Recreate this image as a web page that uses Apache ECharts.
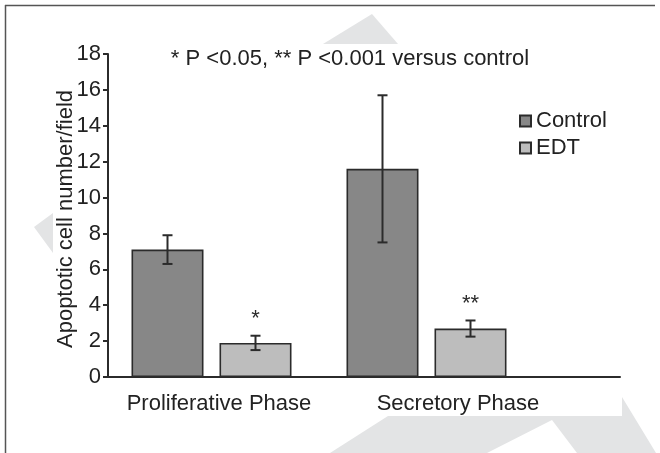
<!DOCTYPE html>
<html>
<head>
<meta charset="utf-8">
<title>Apoptotic cell number per field</title>
<script src="https://cdn.jsdelivr.net/npm/echarts@6/dist/echarts.min.js"></script>
<style>
  html, body { margin: 0; padding: 0; background: #ffffff; }
  #chart { width: 660px; height: 453px; }
</style>
</head>
<body>
<div id="chart"></div>
<script>
// Group labels along the x axis
const categories = ['Proliferative Phase', 'Secretory Phase'];
// Mean apoptotic cells per field and their error bar half-widths
const controlMean = [7.1, 11.6];
const controlErr = [0.8, 4.1];
const edtMean = [1.9, 2.7];
const edtErr = [0.4, 0.45];
// Significance markers drawn above the EDT bars
const edtSig = ['*', '**'];
// Y axis scale
const yMin = 0;
const yMax = 18;
const yStep = 2;

const FONT = '"Liberation Sans", Arial, Helvetica, sans-serif';
const INK = '#2b2b2b';
const BAR_W = 72;
const BAR_GAP = 16;
const CAP_W = 10;
const WATERMARK = '#e3e4e5';

const chart = echarts.init(document.getElementById('chart'), null, { renderer: 'canvas' });

// Whisker series: vertical line with end caps, offset to sit on its bar
function errorSeries(means, errs, side, marks) {
  return {
    type: 'custom',
    xAxisIndex: 1,
    yAxisIndex: 1,
    z: 5,
    silent: true,
    data: means.map((m, i) => [i, m - errs[i], m + errs[i]]),
    renderItem(params, api) {
      const i = api.value(0);
      const lo = api.coord([i, api.value(1)]);
      const hi = api.coord([i, api.value(2)]);
      const x = lo[0] + side * (BAR_W + BAR_GAP) / 2;
      const style = { stroke: INK, lineWidth: 2 };
      const children = [
        { type: 'line', shape: { x1: x, y1: lo[1], x2: x, y2: hi[1] }, style },
        { type: 'line', shape: { x1: x - CAP_W / 2, y1: hi[1], x2: x + CAP_W / 2, y2: hi[1] }, style },
        { type: 'line', shape: { x1: x - CAP_W / 2, y1: lo[1], x2: x + CAP_W / 2, y2: lo[1] }, style }
      ];
      if (marks && marks[i]) {
        children.push({
          type: 'text',
          style: {
            text: marks[i],
            x: x,
            y: hi[1] - 6,
            align: 'center',
            verticalAlign: 'bottom',
            fill: INK,
            font: '22px ' + FONT
          }
        });
      }
      return { type: 'group', children };
    }
  };
}

const option = {
  backgroundColor: '#ffffff',
  animation: false,
  textStyle: { fontFamily: FONT },
  title: {
    text: '* P <0.05, ** P <0.001 versus control',
    left: 345,
    top: 43,
    textAlign: 'center',
    textStyle: { fontFamily: FONT, fontSize: 22, fontWeight: 'normal', color: '#222' }
  },
  legend: {
    orient: 'vertical',
    left: 514,
    top: 105,
    icon: 'rect',
    itemWidth: 11,
    itemHeight: 11,
    itemGap: 5,
    data: ['Control', 'EDT'],
    textStyle: { fontFamily: FONT, fontSize: 22, color: '#222' }
  },
  grid: [
    { left: 108, right: 40, top: 54, bottom: 76 },
    { left: 104, width: 430, top: 54, bottom: 76 }
  ],
  xAxis: [
    {
      type: 'category',
      gridIndex: 0,
      data: categories,
      axisLine: { lineStyle: { color: INK, width: 2 } },
      axisTick: { show: false },
      axisLabel: { show: false },
      splitLine: { show: false }
    },
    {
      type: 'category',
      gridIndex: 1,
      data: categories,
      axisLine: { show: false },
      axisTick: { show: false },
      splitLine: { show: false },
      axisLabel: {
        interval: 0,
        margin: 16,
        formatter: (v, idx) => '{c' + idx + '|' + v + '}',
        rich: {
          c0: { fontFamily: FONT, fontSize: 22, color: '#222', padding: [0, 0, 0, 15] },
          c1: { fontFamily: FONT, fontSize: 22, color: '#222', padding: [0, 0, 0, 63] }
        }
      }
    }
  ],
  yAxis: [
    {
      type: 'value',
      gridIndex: 0,
      min: yMin,
      max: yMax,
      interval: yStep,
      name: 'Apoptotic cell number/field',
      nameLocation: 'middle',
      nameGap: 31,
      nameMoveOverlap: false,
      nameTextStyle: { fontFamily: FONT, fontSize: 22, color: '#222', padding: [0, 7, 0, 0] },
      axisLine: { show: true, lineStyle: { color: INK, width: 2 } },
      axisTick: { show: true, length: 5, lineStyle: { color: INK, width: 2 } },
      axisLabel: { fontFamily: FONT, fontSize: 22, color: '#222', margin: 7 },
      splitLine: { show: false }
    },
    {
      type: 'value',
      gridIndex: 1,
      min: yMin,
      max: yMax,
      interval: yStep,
      show: false,
      splitLine: { show: false }
    }
  ],
  series: [
    {
      name: 'Control',
      type: 'bar',
      xAxisIndex: 1,
      yAxisIndex: 1,
      data: controlMean,
      barWidth: BAR_W,
      barGap: (BAR_GAP / BAR_W * 100) + '%',
      itemStyle: { color: '#878787', borderColor: INK, borderWidth: 1.6 }
    },
    {
      name: 'EDT',
      type: 'bar',
      xAxisIndex: 1,
      yAxisIndex: 1,
      data: edtMean,
      barWidth: BAR_W,
      barGap: (BAR_GAP / BAR_W * 100) + '%',
      itemStyle: { color: '#bdbdbd', borderColor: INK, borderWidth: 1.6 }
    },
    errorSeries(controlMean, controlErr, -1, null),
    errorSeries(edtMean, edtErr, 1, edtSig)
  ],
  graphic: [
    // faint background arrow shapes
    { type: 'polygon', z: -1, silent: true,
      shape: { points: [[372, 14], [323, 44], [398, 44]] },
      style: { fill: WATERMARK } },
    { type: 'polygon', z: -1, silent: true,
      shape: { points: [[53, 213], [34, 227], [53, 253]] },
      style: { fill: WATERMARK } },
    { type: 'polygon', z: -1, silent: true,
      shape: { points: [[330, 453], [388, 416], [622, 416], [622, 397], [656, 453], [577, 453], [552, 420], [487, 453]] },
      style: { fill: WATERMARK } },
    // frame
    { type: 'line', z: 10, silent: true,
      shape: { x1: 5, y1: 5.5, x2: 655, y2: 5.5 },
      style: { stroke: '#555', lineWidth: 1.5 } },
    { type: 'line', z: 10, silent: true,
      shape: { x1: 5.5, y1: 5, x2: 5.5, y2: 453 },
      style: { stroke: '#555', lineWidth: 1.5 } }
  ]
};

chart.setOption(option);
</script>
</body>
</html>
